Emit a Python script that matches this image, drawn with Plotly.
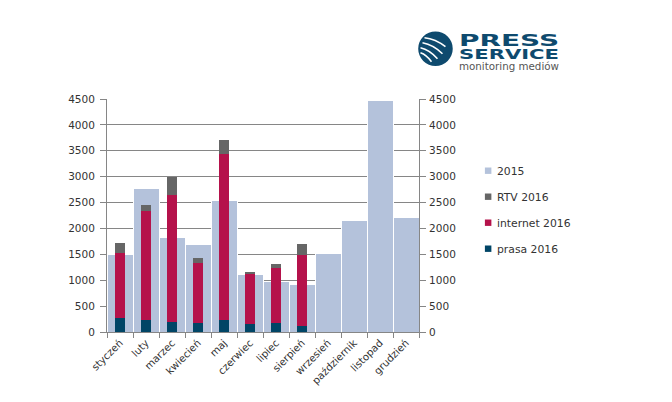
import plotly.graph_objects as go

months = ["styczeń","luty","marzec","kwiecień","maj","czerwiec","lipiec","sierpień","wrzesień","październik","listopad","grudzień"]
v2015 = [1490,2770,1820,1690,2540,1110,970,910,1510,2150,4480,2210]
prasa = [270,230,190,170,230,150,175,120]
internet = [1260,2100,2450,1170,3200,970,1065,1370]
rtv = [190,130,360,90,270,40,80,210]
months16 = months[:8]
yticks = list(range(0,4501,500))
legend_names = ["2015","RTV 2016","internet 2016","prasa 2016"]
legend_colors = ["#B4C2DB","#666666","#B5124B","#004566"]

OFF = 8  # page margin of the browser
L,R,T,B = 107,419.5,99.3,332.3
W,H = 664,394
def px(x): return (x-L)/(R-L)
def py(y): return (B-y)/(B-T)

FONT="DejaVu Sans"; TXT="#333333"; AX="#868686"
fig = go.Figure()
fig.add_bar(x=months,y=v2015,name="2015",marker=dict(color=legend_colors[0],line=dict(color="white",width=1)),width=1,
            xaxis="x",yaxis="y",showlegend=False)
for name,vals,col in [("prasa 2016",prasa,legend_colors[3]),("internet 2016",internet,legend_colors[2]),("RTV 2016",rtv,legend_colors[1])]:
    fig.add_bar(x=months16,y=vals,name=name,marker=dict(color=col,line_width=0),width=0.42,
                xaxis="x2",yaxis="y2",showlegend=False)

common_y=dict(range=[0,4500],tickvals=yticks,ticks="outside",ticklen=6,tickcolor=AX,showline=True,linecolor=AX,
              tickfont=dict(family=FONT,size=10.5,color=TXT),zeroline=False)
fig.update_layout(
    width=W,height=H,margin=dict(l=L-OFF,r=W-(R-OFF),t=T-OFF,b=H-(B-OFF),autoexpand=False),
    paper_bgcolor="white",plot_bgcolor="white",barmode="stack",
    font=dict(family=FONT,size=10.5,color=TXT),
    xaxis=dict(type="category",categoryorder="array",categoryarray=months,range=[-0.5,11.5],tickson="boundaries",ticks="outside",ticklen=5,tickcolor=AX,
               showline=True,linecolor=AX,tickangle=-45,tickfont=dict(family=FONT,size=10.2,color=TXT)),
    xaxis2=dict(type="category",categoryorder="array",categoryarray=months,range=[-0.5,11.5],overlaying="x",visible=False),
    yaxis=dict(**common_y,showgrid=True,gridcolor=AX,gridwidth=1,side="left",ticklabelstandoff=3),
    yaxis2=dict(**common_y,showgrid=False,overlaying="y",side="right",ticklabelstandoff=1),
    showlegend=False,
)
# logo
NAVY="#0E4A6E"
cx,cy,r=436,49,17.3
shapes=[dict(type="circle",xref="paper",yref="paper",x0=px(cx-r),x1=px(cx+r),y0=py(cy+r),y1=py(cy-r),fillcolor=NAVY,line_width=0)]
for (x0,y0,xc,yc,x1,y1) in [(425,38,436,39,446,47),(423,43,434,45,443,54),(421,48,430,50,438,59),(421,53,427,55,432,62)]:
    shapes.append(dict(type="path",xref="paper",yref="paper",
        path=f"M{px(x0)},{py(y0)} Q{px(xc)},{py(yc)} {px(x1)},{py(y1)}",line=dict(color="white",width=1.6)))
# legend
for i,(n,c) in enumerate(zip(legend_names,legend_colors)):
    y=171+26*i
    shapes.append(dict(type="rect",xref="paper",yref="paper",x0=px(485.5),x1=px(492),y0=py(y+3.2),y1=py(y-3.2),fillcolor=c,line_width=0))
    fig.add_annotation(text=n,xref="paper",yref="paper",x=px(495.5),y=py(y+0.8),xanchor="left",yanchor="middle",showarrow=False,
                       font=dict(family=FONT,size=10.8,color=TXT))
fig.update_layout(shapes=shapes)
ann=[("PRESS",460,40.5,16,NAVY,"bold"),("SERVICE",460,54,14,NAVY,"bold"),("monitoring mediów",460,66.5,11,"#555555","normal")]
for t,x,y,s,c,w in ann:
    fig.add_annotation(text=t,xref="paper",yref="paper",x=px(x),y=py(y),xanchor="left",yanchor="middle",showarrow=False,
                       font=dict(family=FONT,size=s,color=c,weight=w))
stretch = """
document.querySelectorAll('.annotation-text').forEach(function(t){
  if(['PRESS','SERVICE','monitoring mediów'].indexOf(t.textContent)>=0){
    t.setAttribute('textLength','100');t.setAttribute('lengthAdjust','spacingAndGlyphs');
    t.setAttribute('x','0');t.style.textAnchor='start';
  }
});
"""
fig.write_html("out.html",post_script=stretch)
